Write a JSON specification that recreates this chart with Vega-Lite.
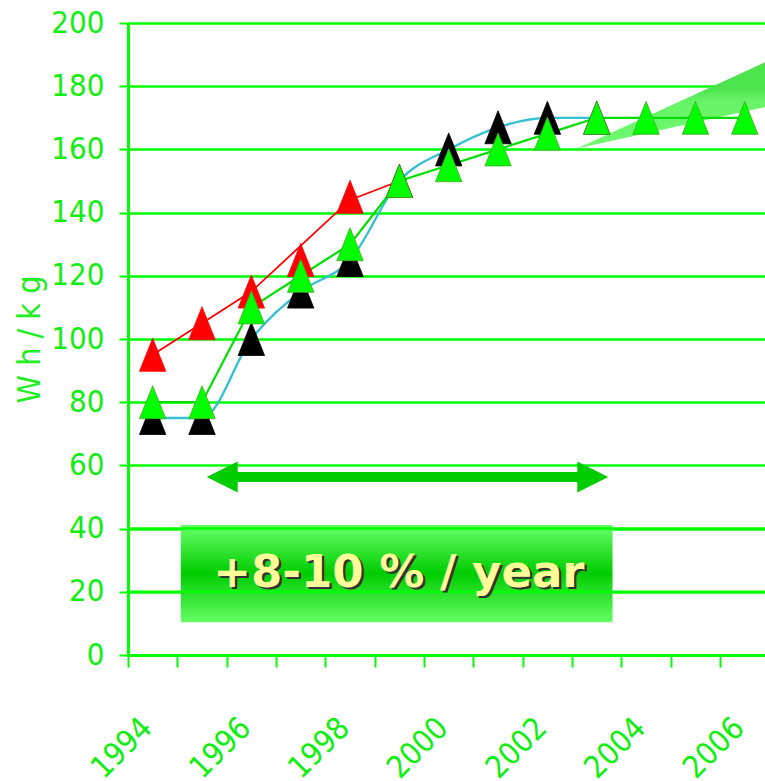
{
  "$schema": "https://vega.github.io/schema/vega-lite/v6.json",
  "width": 637,
  "height": 632,
  "autosize": {"type": "none"},
  "padding": {"left": 128, "top": 23, "right": 0, "bottom": 126},
  "background": "white",
  "config": {"view": {"stroke": null}, "font": "'DejaVu Sans Condensed', 'Liberation Sans', sans-serif"},
  "datasets": {
    "markers": [
      {"series": "red", "year": 1994, "value": 95},
      {"series": "red", "year": 1995, "value": 105},
      {"series": "red", "year": 1996, "value": 115},
      {"series": "red", "year": 1997, "value": 125},
      {"series": "red", "year": 1998, "value": 145},
      {"series": "red", "year": 1999, "value": 150},
      {"series": "black", "year": 1994, "value": 75},
      {"series": "black", "year": 1995, "value": 75},
      {"series": "black", "year": 1996, "value": 100},
      {"series": "black", "year": 1997, "value": 115},
      {"series": "black", "year": 1998, "value": 125},
      {"series": "black", "year": 1999, "value": 150},
      {"series": "black", "year": 2000, "value": 160},
      {"series": "black", "year": 2001, "value": 167},
      {"series": "black", "year": 2002, "value": 170},
      {"series": "black", "year": 2003, "value": 170},
      {"series": "green", "year": 1994, "value": 80},
      {"series": "green", "year": 1995, "value": 80},
      {"series": "green", "year": 1996, "value": 110},
      {"series": "green", "year": 1997, "value": 120},
      {"series": "green", "year": 1998, "value": 130},
      {"series": "green", "year": 1999, "value": 150},
      {"series": "green", "year": 2000, "value": 155},
      {"series": "green", "year": 2001, "value": 160},
      {"series": "green", "year": 2002, "value": 165},
      {"series": "green", "year": 2003, "value": 170},
      {"series": "green", "year": 2004, "value": 170},
      {"series": "green", "year": 2005, "value": 170},
      {"series": "green", "year": 2006, "value": 170}
    ],
    "redLine": [
      {"year": 1994, "value": 95},
      {"year": 1995, "value": 105},
      {"year": 1996, "value": 115},
      {"year": 1998, "value": 144},
      {"year": 1999, "value": 150}
    ],
    "wedge": [
      {"year": 2002.6, "lo": 160.3, "hi": 160.3},
      {"year": 2006.41, "lo": 173.4, "hi": 187.6}
    ],
    "box": [
      {"year": 1994.57, "year2": 2003.32, "value": 41.1, "value2": 10.4}
    ],
    "gridOverBox": [{"value": 20}, {"value": 40}],
    "label": [{"year": 1998.99, "value": 26, "text": "+8-10 % / year"}],
    "shaft": [{"year": 1995.6, "year2": 2002.75, "value": 56.3}],
    "heads": [
      {"year": 1995.41, "value": 56.3, "dir": "left"},
      {"year": 2002.92, "value": 56.3, "dir": "right"}
    ]
  },
  "layer": [
    {
      "data": {"name": "wedge"},
      "mark": {
        "type": "area",
        "color": {
          "gradient": "linear", "x1": 0, "y1": 0, "x2": 0, "y2": 1,
          "stops": [
            {"offset": 0, "color": "#4de34d"},
            {"offset": 0.3, "color": "#4de34d"},
            {"offset": 0.45, "color": "#66f466"},
            {"offset": 1, "color": "#70f870"}
          ]
        }
      },
      "encoding": {
        "x": {
          "field": "year", "type": "quantitative",
          "scale": {"domain": [1993.5, 2006.41], "nice": false, "zero": false},
          "axis": {
            "title": null,
            "values": [1993.5, 1994.5, 1995.5, 1996.5, 1997.5, 1998.5, 1999.5, 2000.5, 2001.5, 2002.5, 2003.5, 2004.5, 2005.5],
            "labelExpr": "(datum.value + 0.5) % 2 == 0 ? format(datum.value + 0.5, 'd') : ''",
            "labelOffset": 19,
            "labelAngle": -45,
            "labelAlign": "right",
            "labelBaseline": "middle",
            "labelPadding": 56,
            "labelFontSize": 31,
            "labelColor": "#11ee11",
            "labelOverlap": false,
            "labelFlush": false,
            "labelBound": false,
            "domainColor": "#00ff00",
            "domainWidth": 3,
            "tickColor": "#00ff00",
            "tickWidth": 2,
            "tickSize": 12,
            "grid": false
          }
        },
        "y": {
          "field": "lo", "type": "quantitative",
          "scale": {"domain": [0, 200], "nice": false},
          "axis": {
            "title": "W h  /  k g",
            "titleFontSize": 32,
            "titleFontWeight": "normal",
            "titleColor": "#22ee22",
            "titlePadding": 4,
            "values": [0, 20, 40, 60, 80, 100, 120, 140, 160, 180, 200],
            "labelFontSize": 31,
            "labelColor": "#11ee11",
            "labelPadding": 15,
            "domainColor": "#00ff00",
            "domainWidth": 3,
            "tickColor": "#00ff00",
            "tickWidth": 2,
            "tickSize": 9,
            "grid": true,
            "gridColor": "#00ff00",
            "gridWidth": 2.5
          }
        },
        "y2": {"field": "hi"}
      }
    },
    {
      "data": {"name": "box"},
      "mark": {
        "type": "rect",
        "color": {
          "gradient": "linear", "x1": 0, "y1": 0, "x2": 0, "y2": 1,
          "stops": [
            {"offset": 0, "color": "#66ff66"},
            {"offset": 0.5, "color": "#00cc00"},
            {"offset": 1, "color": "#66ff66"}
          ]
        }
      },
      "encoding": {
        "x": {"field": "year", "type": "quantitative"},
        "x2": {"field": "year2"},
        "y": {"field": "value", "type": "quantitative"},
        "y2": {"field": "value2"}
      }
    },
    {
      "data": {"name": "gridOverBox"},
      "mark": {"type": "rule", "color": "#00ff00", "strokeWidth": 2.5},
      "encoding": {"y": {"field": "value", "type": "quantitative"}}
    },
    {
      "data": {"name": "label"},
      "mark": {"type": "text", "font": "DejaVu Sans", "fontWeight": "bold", "fontSize": 45, "color": "#333333", "dx": 2.5, "dy": 2.5, "baseline": "middle"},
      "encoding": {
        "x": {"field": "year", "type": "quantitative"},
        "y": {"field": "value", "type": "quantitative"},
        "text": {"field": "text"}
      }
    },
    {
      "data": {"name": "label"},
      "mark": {"type": "text", "font": "DejaVu Sans", "fontWeight": "bold", "fontSize": 45, "color": "#ffff99", "baseline": "middle"},
      "encoding": {
        "x": {"field": "year", "type": "quantitative"},
        "y": {"field": "value", "type": "quantitative"},
        "text": {"field": "text"}
      }
    },
    {
      "data": {"name": "shaft"},
      "mark": {"type": "rule", "color": "#00cc00", "strokeWidth": 10},
      "encoding": {
        "x": {"field": "year", "type": "quantitative"},
        "x2": {"field": "year2"},
        "y": {"field": "value", "type": "quantitative"}
      }
    },
    {
      "data": {"name": "heads"},
      "mark": {"type": "point", "filled": true, "color": "#00cc00", "opacity": 1, "size": 961},
      "encoding": {
        "x": {"field": "year", "type": "quantitative"},
        "y": {"field": "value", "type": "quantitative"},
        "shape": {
          "field": "dir", "type": "nominal",
          "scale": {"domain": ["left", "right"], "range": ["M-1,0L1,-1L1,1Z", "M1,0L-1,-1L-1,1Z"]},
          "legend": null
        }
      }
    },
    {
      "data": {"name": "redLine"},
      "mark": {"type": "line", "color": "#ff0000", "strokeWidth": 1.8},
      "encoding": {
        "x": {"field": "year", "type": "quantitative"},
        "y": {"field": "value", "type": "quantitative"}
      }
    },
    {
      "data": {"name": "markers"},
      "transform": [{"filter": "datum.series == 'black'"}],
      "mark": {"type": "line", "color": "#33c0d0", "strokeWidth": 2.3, "interpolate": "monotone"},
      "encoding": {
        "x": {"field": "year", "type": "quantitative"},
        "y": {"field": "value", "type": "quantitative"}
      }
    },
    {
      "data": {"name": "markers"},
      "transform": [{"filter": "datum.series == 'green'"}],
      "mark": {"type": "line", "color": "#00e000", "strokeWidth": 2.2},
      "encoding": {
        "x": {"field": "year", "type": "quantitative"},
        "y": {"field": "value", "type": "quantitative"}
      }
    },
    {
      "data": {"name": "markers"},
      "mark": {"type": "point", "filled": true, "opacity": 1, "size": 1089, "shape": "M0,-1L0.8,1L-0.8,1Z", "strokeWidth": 0.8},
      "encoding": {
        "x": {"field": "year", "type": "quantitative"},
        "y": {"field": "value", "type": "quantitative"},
        "color": {
          "field": "series", "type": "nominal",
          "scale": {"domain": ["red", "black", "green"], "range": ["#ff0000", "#000000", "#00ff00"]},
          "legend": null
        },
        "stroke": {
          "field": "series", "type": "nominal",
          "scale": {"domain": ["red", "black", "green"], "range": ["#ff0000", "#000000", "#44aa22"]},
          "legend": null
        }
      }
    }
  ]
}
